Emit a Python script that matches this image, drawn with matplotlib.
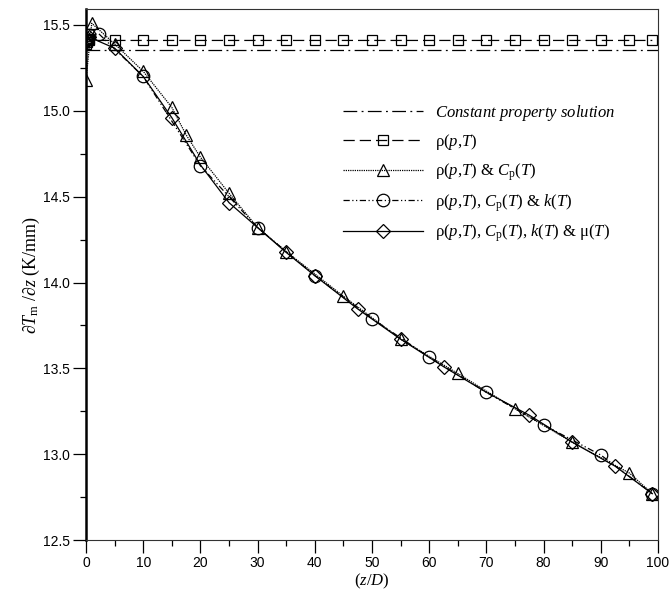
import matplotlib
matplotlib.use('Agg')
import matplotlib.pyplot as plt
from matplotlib.ticker import MultipleLocator

plt.rcParams['mathtext.fontset'] = 'custom'
plt.rcParams['mathtext.rm'] = 'Liberation Serif'
plt.rcParams['mathtext.it'] = 'Liberation Serif:italic'

# values
const_x = [0, 100]
const_y = [15.352, 15.352]

rho_x = [0, 0.15, 0.3, 0.45, 0.6, 5, 10, 15, 20, 25, 30, 35, 40, 45, 50, 55, 60, 65, 70, 75, 80,
         85, 90, 95, 99]
rho_y = [15.39, 15.40, 15.41, 15.42, 15.41, 15.41, 15.41, 15.41, 15.41, 15.41, 15.41, 15.41,
         15.41, 15.41, 15.41, 15.41, 15.41, 15.41, 15.41, 15.41, 15.41, 15.41, 15.41, 15.41, 15.41]

cp_x = [0, 1, 5, 10, 15, 17.5, 20, 25, 30, 35, 45, 55, 65, 75, 85, 95, 99]
cp_y = [15.18, 15.51, 15.39, 15.23, 15.02, 14.86, 14.73, 14.52, 14.32, 14.18, 13.92,
        13.67, 13.47, 13.265, 13.07, 12.89, 12.77]

k_x = [0, 0.5, 2.2, 10, 20, 30, 40, 50, 60, 70, 80, 90, 99]
k_y = [15.41, 15.44, 15.45, 15.20, 14.68, 14.32, 14.04, 13.79, 13.565, 13.36, 13.17, 12.995, 12.77]

mu_x = [0, 0.3, 0.5, 5, 10, 15, 20, 25, 30, 35, 40, 47.5, 55, 62.5, 70, 77.5, 85, 92.5, 99]
mu_y = [15.40, 15.42, 15.43, 15.365, 15.20, 14.96, 14.685, 14.465, 14.32, 14.175, 14.04, 13.846,
        13.67, 13.51, 13.36, 13.227, 13.07, 12.93, 12.77]
mu_marks = [0, 1, 2, 3, 5, 7, 9, 10, 11, 12, 13, 15, 16, 17, 18]

labels = [
    r'$Constant\ property\ solution$',
    r'ρ($p$,$T$)',
    r'ρ($p$,$T$) & $C$$_\mathrm{p}$($T$)',
    r'ρ($p$,$T$), $C$$_\mathrm{p}$($T$) & $k$($T$)',
    r'ρ($p$,$T$), $C$$_\mathrm{p}$($T$), $k$($T$) & μ($T$)',
]

fig = plt.figure(figsize=(6.72, 5.90), dpi=100)
ax = fig.add_axes([0.128, 0.0847, 0.8512, 0.90])

lw = 0.9
mk = dict(markerfacecolor='none', markeredgecolor='black', markeredgewidth=0.9)

ax.plot(const_x, const_y, color='black', lw=lw, dashes=(11, 3.5, 1.5, 3.5), label=labels[0])
ax.plot(rho_x, rho_y, color='black', lw=lw, dashes=(9, 4), marker='s', markersize=7,
        label=labels[1], **mk)
ax.plot(cp_x, cp_y, color='black', lw=lw, dashes=(1, 0.8), marker='^', markersize=9,
        label=labels[2], **mk)
ax.plot(k_x, k_y, color='black', lw=lw, dashes=(5, 2, 1, 2, 1, 2), marker='o', markersize=9,
        label=labels[3], **mk)
ax.plot(mu_x, mu_y, color='black', lw=lw, linestyle='-', marker='D', markersize=7.5,
        markevery=mu_marks, label=labels[4], **mk)

ax.set_xlim(0, 100)
ax.set_ylim(12.5, 15.593)
ax.xaxis.set_major_locator(MultipleLocator(10))
ax.xaxis.set_minor_locator(MultipleLocator(5))
ax.yaxis.set_major_locator(MultipleLocator(0.5))
ax.yaxis.set_minor_locator(MultipleLocator(0.25))
ax.yaxis.set_major_formatter(plt.FuncFormatter(lambda v, p: '%.1f' % v))

ax.tick_params(which='major', direction='out', length=9.5, width=0.9, labelsize=10, pad=2)
ax.tick_params(which='minor', direction='out', length=4.5, width=0.9)
for t in ax.get_xticklabels() + ax.get_yticklabels():
    t.set_fontfamily('Liberation Sans')

for s in ['top', 'right', 'bottom']:
    ax.spines[s].set_linewidth(0.8)
    ax.spines[s].set_color('#333333')
ax.spines['left'].set_linewidth(1.8)

ax.set_xlabel(r'($z$/$D$)', fontsize=12, fontfamily='Liberation Serif', labelpad=1)
ax.set_ylabel(r'$\partial T_\mathrm{m}\ /\partial z$ (K/mm)', fontsize=13,
              fontfamily='Liberation Serif', labelpad=1)

leg = ax.legend(loc='upper left', bbox_to_anchor=(0.449, 0.823), frameon=False,
                prop={'family': 'Liberation Serif', 'size': 12},
                handlelength=4.8, handletextpad=0.72, labelspacing=0.55,
                borderpad=0, borderaxespad=0, numpoints=1)

fig.savefig('out.png', dpi=100)
